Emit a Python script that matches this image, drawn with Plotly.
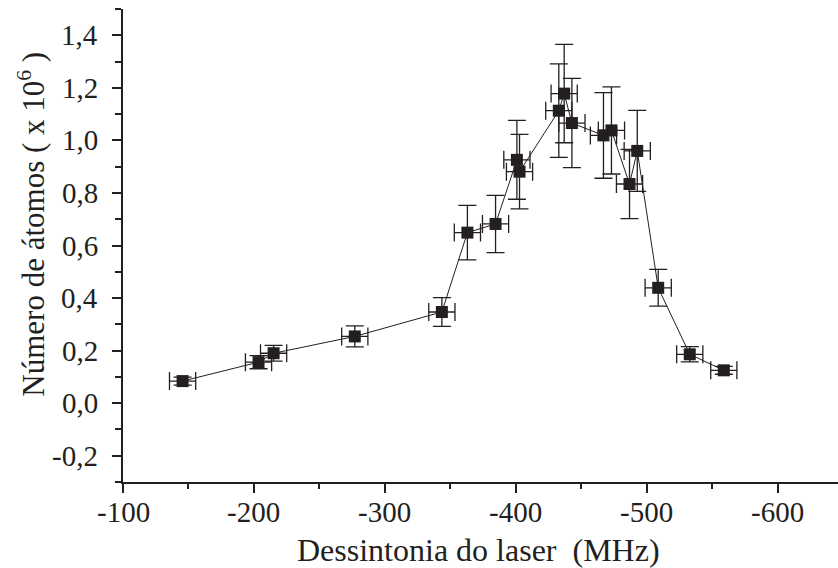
import plotly.graph_objects as go

detuning = [-145.5, -203.5, -215.0, -277.0, -343.5, -363.0, -384.5, -400.8, -402.8,
            -432.8, -436.9, -442.8, -466.9, -473.0, -486.8, -492.7, -508.7, -532.8, -558.8]
atoms = [0.084, 0.156, 0.190, 0.254, 0.347, 0.649, 0.682, 0.926, 0.881,
         1.113, 1.178, 1.066, 1.019, 1.038, 0.834, 0.960, 0.439, 0.186, 0.125]
atoms_err = [0.015, 0.025, 0.030, 0.040, 0.055, 0.104, 0.109, 0.150, 0.142,
             0.178, 0.187, 0.170, 0.163, 0.166, 0.132, 0.154, 0.070, 0.029, 0.015]
detuning_err = [10] * len(detuning)

x_ticks = [-100, -200, -300, -400, -500, -600]
x_ticklabels = ["-100", "-200", "-300", "-400", "-500", "-600"]
y_ticks = [-0.2, 0.0, 0.2, 0.4, 0.6, 0.8, 1.0, 1.2, 1.4]
y_ticklabels = ["-0,2", "0,0", "0,2", "0,4", "0,6", "0,8", "1,0", "1,2", "1,4"]

INK = "#231f20"
FONT = "'Times New Roman', 'Liberation Serif', Times, serif"

fig = go.Figure()
fig.add_trace(go.Scatter(
    x=detuning, y=atoms, mode="lines+markers",
    line=dict(color=INK, width=1),
    marker=dict(symbol="square", size=12, color=INK),
    error_x=dict(type="data", array=detuning_err, color=INK, thickness=1.3, width=9),
    error_y=dict(type="data", array=atoms_err, color=INK, thickness=1.3, width=9),
    showlegend=False,
))

fig.update_layout(
    template="none",
    width=838, height=568,
    margin=dict(l=123, r=0, t=9, b=86),
    paper_bgcolor="white", plot_bgcolor="white",
    font=dict(family=FONT, color=INK, size=28),
    xaxis=dict(
        range=[-100, -646], tickmode="array", tickvals=x_ticks, showticklabels=False,
        showgrid=False, zeroline=False, showline=True, linecolor=INK, linewidth=2,
        ticks="outside", ticklen=9, tickwidth=2, tickcolor=INK,
        minor=dict(dtick=50, tick0=-100, ticks="outside", ticklen=5, tickwidth=2, tickcolor=INK),
    ),
    yaxis=dict(
        range=[-0.3, 1.5], tickmode="array", tickvals=y_ticks, showticklabels=False,
        showgrid=False, zeroline=False, showline=True, linecolor=INK, linewidth=2,
        ticks="outside", ticklen=9, tickwidth=2, tickcolor=INK,
        minor=dict(dtick=0.1, tick0=0, ticks="outside", ticklen=6, tickwidth=2, tickcolor=INK),
    ),
)

# tick labels placed on the axes' own scales
for v, t in zip(x_ticks, x_ticklabels):
    fig.add_annotation(
        text=t, x=v, xref="x", y=0, yref="paper", xanchor="center", yanchor="top",
        yshift=-12, showarrow=False, font=dict(family=FONT, size=29, color=INK),
    )
for v, t in zip(y_ticks, y_ticklabels):
    fig.add_annotation(
        text=t, x=0, xref="paper", y=v, yref="y", xanchor="right", yanchor="middle",
        xshift=-23, showarrow=False, font=dict(family=FONT, size=29, color=INK),
    )

fig.add_annotation(
    text="Dessintonia do laser  (MHz)",
    xref="paper", yref="paper", x=0.497, y=0, xanchor="center", yanchor="top",
    yshift=-48, showarrow=False, font=dict(family=FONT, size=32, color=INK),
)
fig.add_annotation(
    text="Número de átomos ( x 10<sup>6</sup> )", textangle=-90,
    xref="paper", yref="paper", x=-0.128, y=0.545, xanchor="center", yanchor="middle",
    showarrow=False, font=dict(family=FONT, size=31, color=INK),
)

fig.write_html("out.html")
